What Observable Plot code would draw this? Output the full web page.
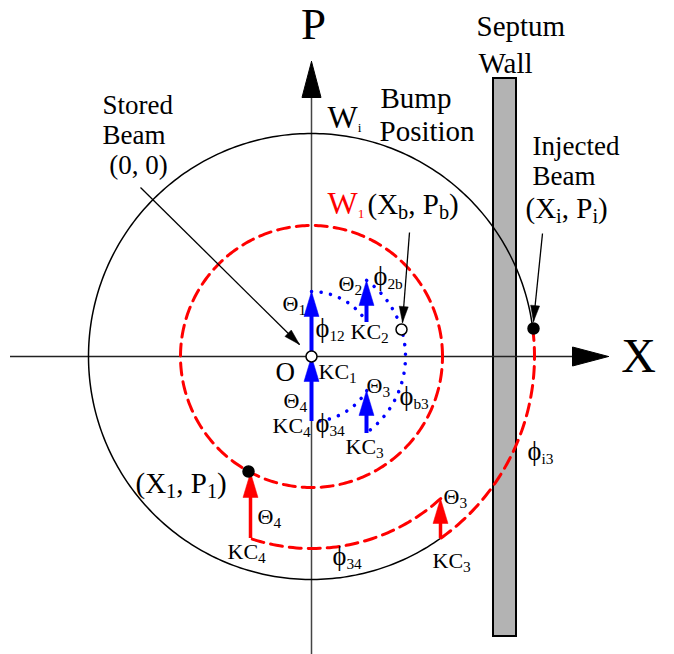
<!DOCTYPE html>
<html><head><meta charset="utf-8">
<script src="https://cdn.jsdelivr.net/npm/d3@7"></script>
<script src="https://cdn.jsdelivr.net/npm/@observablehq/plot@0.6"></script>
<style>body{margin:0;background:#fff}</style>
</head><body><div id="chart"></div>
<script>
// ---- Data (phase space, origin = stored beam; 1 unit ≈ 1 px of the original figure) ----
// Orbit arcs: radius, start angle, end angle (degrees, counter-clockwise from +X)
const arcRadius = [223, 223, 131, 192, 65, 94, 65];
const arcStart  = [7.2, 7.2, 0, -47.7, 90, 54.1, -31.7];
const arcEnd    = [305.3, -54.7, 360, -108.5, 31.7, -54.5, -90];
const arcKind   = ["black", "red", "red", "red", "blue", "blue", "blue"];

// Kicker kicks (vertical arrows in P)
const kickX    = [0, 55, 55, 0, 129, -61];
const kickFrom = [0, 34, -77, -65, -182, -182];
const kickTo   = [65, 76, -34, 0, -142, -116];
const kickKind = ["blue", "blue", "blue", "blue", "red", "red"];

// Beam points: O, bump (Xb,Pb), injected (Xi,Pi), (X1,P1)
const pointX = [0, 90, 222, -63];
const pointY = [0, 27, 28, -115];
const pointFilled = [false, false, true, true];

// Septum wall extent
const septumX = [182, 205];
const septumY = [-280, 278];

// Axes extents
const xAxisExtent = [-301, 297];
const pAxisExtent = [-298, 295];

// Pointer arrows (label -> point)
const pointerX1 = [-171, 98, 231];
const pointerY1 = [169, 124, 123];
const pointerX2 = [-12, 91, 222];
const pointerY2 = [12, 34, 35];

// Text labels
const stackText = ["Stored\nBeam\n\u00A0(0, 0)", "Injected\nBeam"];
const stackX = [-209, 221];
const stackY = [183, 172];

const bigText = ["Bump", "Position", "Septum", "Wall", "(X_i, P_i)", "(X_1, P_1)", "(X_b, P_b)"];
const bigX    = [69, 68, 165, 167, 214, -176, 56];
const bigY    = [249, 216, 321, 284, 139, -136, 143];

const smallText = ["Θ_1", "ϕ_12", "Θ_2", "ϕ_2b", "KC_2", "KC_1", "Θ_3", "ϕ_b3", "Θ_4", "KC_4", "ϕ_34", "KC_3",
                   "Θ_4", "KC_4", "ϕ_34", "Θ_3", "KC_3", "ϕ_i3"];
const smallX = [-29, 4, 27, 62, 39, 7, 55, 88, -28, -39, 4, 34, -54, -84, 21, 132, 121, 216];
const smallY = [46, 20, 66, 72, 18, -22, -36, -48, -51, -76, -75, -97, -167, -202, -208, -147, -211, -103];

const wText = ["W~i", "W~1"];
const wX = [16, 16];
const wY = [229, 143];
const wColor = ["black", "red"];

// ---- Geometry helpers ----
const deg = Math.PI / 180;
function arcPoints(r, a0, a1, id) {
  const n = Math.max(2, Math.ceil(Math.abs(a1 - a0)));
  return d3.range(n + 1).map(i => {
    const a = (a0 + (a1 - a0) * i / n) * deg;
    return {x: r * Math.cos(a), y: r * Math.sin(a), id};
  });
}
function head(x2, y2, dx, dy, len, wid, id) {
  const L = Math.hypot(dx, dy), ux = dx / L, uy = dy / L, px = -uy, py = ux;
  const bx = x2 - ux * len, by = y2 - uy * len;
  return [{x: x2, y: y2, id}, {x: bx + px * wid / 2, y: by + py * wid / 2, id}, {x: bx - px * wid / 2, y: by - py * wid / 2, id}, {x: x2, y: y2, id}];
}

const arcs = arcRadius.map((r, i) => ({r, a0: arcStart[i], a1: arcEnd[i], kind: arcKind[i], i}));
const arcPts = kind => arcs.filter(a => a.kind === kind).flatMap(a => arcPoints(a.r, a.a0, a.a1, a.i));

const kicks = kickX.map((x, i) => ({x, y1: kickFrom[i], y2: kickTo[i], kind: kickKind[i], i}));
const kickHeadLen = 25, kickHeadWid = 15;
const kickStems = kind => kicks.filter(k => k.kind === kind).map(k => ({x: k.x, y1: k.y1, y2: k.y2 - kickHeadLen * 0.6}));
const kickHeads = kind => kicks.filter(k => k.kind === kind).flatMap(k => head(k.x, k.y2, 0, 1, kickHeadLen, kickHeadWid, k.i));

const pointers = pointerX1.map((x1, i) => ({x1, y1: pointerY1[i], x2: pointerX2[i], y2: pointerY2[i], i}));
const pointerHeads = pointers.flatMap(p => head(p.x2, p.y2, p.x2 - p.x1, p.y2 - p.y1, 16, 9, p.i));

const axisHeads = [
  ...head(xAxisExtent[1], 0, 1, 0, 36, 19, "x"),
  ...head(0, pAxisExtent[1], 0, 1, 36, 19, "p")
];

const points = pointX.map((x, i) => ({x, y: pointY[i], filled: pointFilled[i]}));

const serif = "'Liberation Serif', 'Times New Roman', 'DejaVu Serif', serif";
const rows = (t, xs, ys, extra = {}) => t.map((text, i) => ({text, x: xs[i], y: ys[i], ...Object.fromEntries(Object.entries(extra).map(([k, v]) => [k, v[i]]))}));

const chart = Plot.plot({
  width: 674, height: 654, margin: 0,
  x: {domain: [-311, 363], axis: null},
  y: {domain: [-298, 356], axis: null},
  style: {fontFamily: serif, background: "white"},
  marks: [
    // septum wall
    Plot.rect([{}], {x1: septumX[0], x2: septumX[1], y1: septumY[0], y2: septumY[1], fill: "#b3b3b3", stroke: "black", strokeWidth: 2}),
    // axes
    Plot.ruleY([0], {x1: xAxisExtent[0], x2: xAxisExtent[1] - 20, stroke: "#222", strokeWidth: 1.5}),
    Plot.ruleX([0], {y1: pAxisExtent[0], y2: pAxisExtent[1] - 20, stroke: "#444", strokeWidth: 1.5}),
    Plot.line(axisHeads, {x: "x", y: "y", z: "id", fill: "black", stroke: "black", strokeWidth: 1}),
    // orbits
    Plot.line(arcPts("black"), {x: "x", y: "y", z: "id", stroke: "black", strokeWidth: 1.5}),
    Plot.line(arcPts("red"), {x: "x", y: "y", z: "id", stroke: "#ff0000", strokeWidth: 3, strokeDasharray: "12 7"}),
    Plot.line(arcPts("blue"), {x: "x", y: "y", z: "id", stroke: "#0000ff", strokeWidth: 3.5, strokeDasharray: "0.1 9.5", strokeLinecap: "round"}),
    // kicks
    Plot.ruleX(kickStems("blue"), {x: "x", y1: "y1", y2: "y2", stroke: "#0000ff", strokeWidth: 4}),
    Plot.line(kickHeads("blue"), {x: "x", y: "y", z: "id", fill: "#0000ff", stroke: "#0000ff", strokeWidth: 0.5}),
    Plot.ruleX(kickStems("red"), {x: "x", y1: "y1", y2: "y2", stroke: "#ff0000", strokeWidth: 3.5}),
    Plot.line(kickHeads("red"), {x: "x", y: "y", z: "id", fill: "#ff0000", stroke: "#ff0000", strokeWidth: 0.5}),
    // pointer arrows
    Plot.link(pointers, {x1: "x1", y1: "y1", x2: "x2", y2: "y2", stroke: "black", strokeWidth: 1.3}),
    Plot.line(pointerHeads, {x: "x", y: "y", z: "id", fill: "black", stroke: "black", strokeWidth: 0.5}),
    // beam points
    Plot.dot(points, {x: "x", y: "y", r: 5.5, fill: d => d.filled ? "black" : "white", stroke: "black", strokeWidth: 1.5}),
    // labels
    Plot.text(rows(stackText, stackX, stackY), {x: "x", y: "y", text: "text", fontSize: 27, lineHeight: 1.11, textAnchor: "start", lineAnchor: "bottom", fill: "black", fontFamily: serif}),
    Plot.text(rows(bigText, bigX, bigY), {x: "x", y: "y", text: "text", fontSize: 29, textAnchor: "start", lineAnchor: "bottom", fill: "black", fontFamily: serif}),
    Plot.text(rows(smallText, smallX, smallY), {x: "x", y: "y", text: "text", fontSize: 22, textAnchor: "start", lineAnchor: "bottom", fill: "black", fontFamily: serif}),
    Plot.text(rows(wText, wX, wY, {c: wColor}), {x: "x", y: "y", text: "text", fill: "c", fontSize: 32, textAnchor: "start", lineAnchor: "bottom", fontFamily: serif}),
    Plot.text([{t: "P"}], {x: 2, y: 318, text: "t", fontSize: 45, textAnchor: "middle", lineAnchor: "bottom", fill: "black", fontFamily: serif}),
    Plot.text([{t: "X"}], {x: 327, y: -15, text: "t", fontSize: 48, textAnchor: "middle", lineAnchor: "bottom", fill: "black", fontFamily: serif}),
    Plot.text([{t: "O"}], {x: -36, y: -24, text: "t", fontSize: 27, textAnchor: "start", lineAnchor: "bottom", fill: "black", fontFamily: serif})
  ]
});
document.getElementById("chart").appendChild(chart);

// Subscripts: "_" normal subscript, "~" tiny subscript; the phi glyph is enlarged slightly
chart.querySelectorAll("text").forEach(el => {
  if (el.querySelector("tspan")) return;
  const s = el.textContent;
  if (!/[_~]/.test(s)) return;
  const fs = parseFloat(getComputedStyle(el).fontSize) || 22;
  el.textContent = "";
  const re = /([_~])([A-Za-z0-9]+)/g;
  let last = 0, m, shifted = 0;
  const ns = "http://www.w3.org/2000/svg";
  const add = (txt, size, dy) => {
    const t = document.createElementNS(ns, "tspan");
    t.textContent = txt;
    if (size) t.setAttribute("font-size", size);
    if (dy) t.setAttribute("dy", dy);
    el.appendChild(t);
  };
  while ((m = re.exec(s))) {
    if (m.index > last) {
      const base = s.slice(last, m.index);
      add(base, base === "ϕ" ? fs * 1.2 : null, -shifted);
      shifted = 0;
    }
    const tiny = m[1] === "~";
    const sz = tiny ? fs * 0.42 : fs * 0.7;
    const dy = tiny ? fs * 0.15 : fs * 0.2;
    add(m[2], sz, dy - shifted);
    shifted = dy;
    last = re.lastIndex;
  }
  if (last < s.length) add(s.slice(last), null, -shifted);
});
</script>
</body></html>
